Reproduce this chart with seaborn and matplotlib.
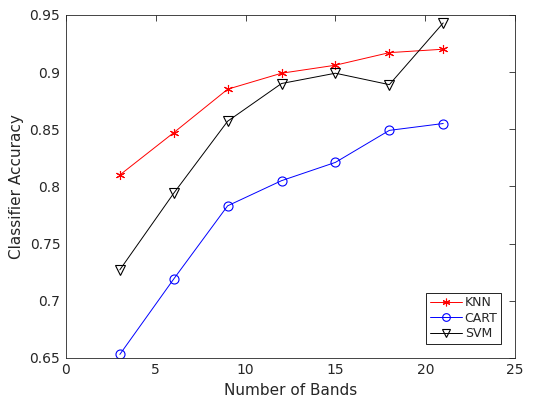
import matplotlib
matplotlib.use("Agg")
import matplotlib.pyplot as plt
import pandas as pd
import seaborn as sns

bands = [3, 6, 9, 12, 15, 18, 21]
knn = [0.810, 0.847, 0.885, 0.899, 0.906, 0.917, 0.920]
cart = [0.653, 0.719, 0.783, 0.805, 0.821, 0.849, 0.855]
svm = [0.727, 0.794, 0.857, 0.890, 0.899, 0.889, 0.943]

series = [
    ("KNN", knn, "#ff0000", (6, 2, 0)),
    ("CART", cart, "#0000ff", "o"),
    ("SVM", svm, "#000000", "v"),
]

sns.set_style("white")
plt.rcParams["font.family"] = ["DejaVu Sans"]
text_col = "#262626"

fig = plt.figure(figsize=(5.36, 4.03), dpi=100)
ax = fig.add_axes([0.123, 0.112, 0.838, 0.851])

for name, vals, col, mk in series:
    df = pd.DataFrame({"bands": bands, "acc": vals})
    sns.lineplot(data=df, x="bands", y="acc", color=col, marker=mk,
                 markerfacecolor="none", markeredgecolor=col, markersize=6.5,
                 markeredgewidth=0.8, linewidth=0.7, label=name, ax=ax)

ax.set_xlim(0, 25)
ax.set_ylim(0.65, 0.95)
ax.set_xticks([0, 5, 10, 15, 20, 25])
ax.set_yticks([0.65, 0.7, 0.75, 0.8, 0.85, 0.9, 0.95])
ax.set_yticklabels(["0.65", "0.7", "0.75", "0.8", "0.85", "0.9", "0.95"])
ax.tick_params(direction="in", top=True, right=True, length=4, width=0.6,
               colors=text_col, labelsize=10, pad=4)
for s in ax.spines.values():
    s.set_visible(True)
    s.set_color(text_col)
    s.set_linewidth(0.6)
ax.set_xlabel("Number of Bands", fontsize=11, color=text_col)
ax.set_ylabel("Classifier Accuracy", fontsize=11, color=text_col)

leg = ax.legend(loc="lower right", fontsize=9, fancybox=False, framealpha=1,
                edgecolor="black", borderpad=0.3, labelspacing=0.2,
                handlelength=2.6, handletextpad=0.2, borderaxespad=1.1,
                markerscale=0.85)
leg.get_frame().set_linewidth(0.6)
for t in leg.get_texts():
    t.set_color(text_col)

fig.savefig("out.png", dpi=100)
